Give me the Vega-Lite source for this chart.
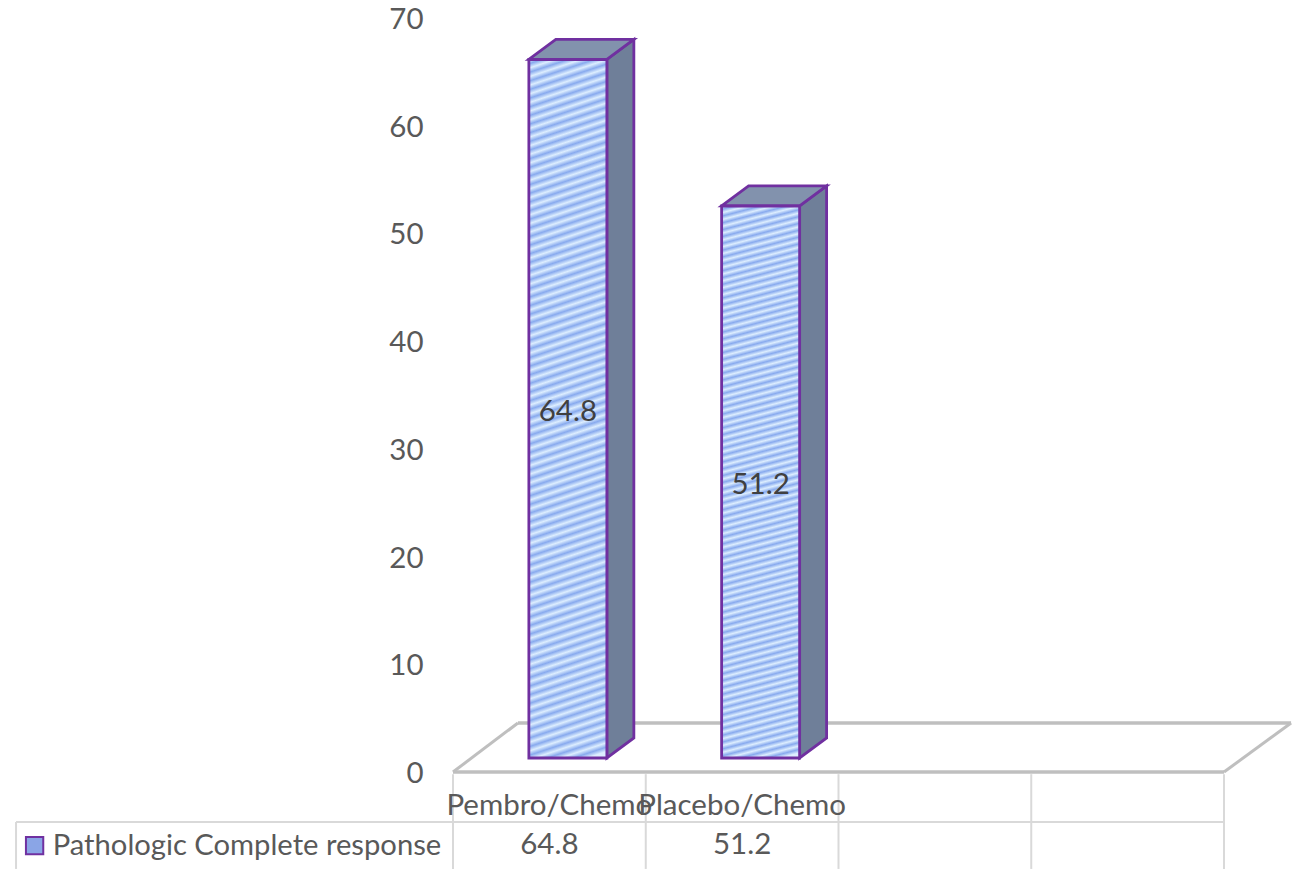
{
"$schema":"https://vega.github.io/schema/vega-lite/v6.json",
"width":1302,"height":869,"padding":0,"autosize":{"type":"none"},"background":"white",
"config":{"view":{"stroke":null},"font":"Lato"},
"layer":[
{"data":{"values":[{}]},"mark":{"type":"rule","stroke":"#bfbfbf","strokeWidth":3.5},"encoding":{
 "x":{"datum":0,"type":"quantitative","scale":{"domain":[0,4],"range":[453,1224],"nice":false,"zero":false,"padding":0},"axis":null},
 "x2":{"datum":4},
 "y":{"datum":0,"type":"quantitative","scale":{"domain":[0,70],"range":[772,18],"nice":false,"zero":false,"padding":0},"axis":{"values":[0,10,20,30,40,50,60,70],"title":null,"domain":false,"ticks":false,"grid":false,"offset":-425,"labelPadding":2,"labelOffset":1.5,"labelFont":"Lato","labelFontSize":29.5,"labelColor":"#595959"}},
 "y2":{"datum":0}}},
{"data":{"values":[{}]},"mark":{"type":"rule","stroke":"#bfbfbf","strokeWidth":3.5},"encoding":{"x":{"datum":0.337,"type":"quantitative"},"x2":{"datum":4.348},"y":{"datum":4.55,"type":"quantitative"},"y2":{"datum":4.55}}},
{"data":{"values":[{}]},"mark":{"type":"rule","stroke":"#bfbfbf","strokeWidth":3},"encoding":{"x":{"datum":0,"type":"quantitative"},"x2":{"datum":0.337},"y":{"datum":0,"type":"quantitative"},"y2":{"datum":4.55}}},
{"data":{"values":[{}]},"mark":{"type":"rule","stroke":"#bfbfbf","strokeWidth":3},"encoding":{"x":{"datum":4,"type":"quantitative"},"x2":{"datum":4.348},"y":{"datum":0,"type":"quantitative"},"y2":{"datum":4.55}}},
{"data":{"values":[{"column":0},{"column":1},{"column":2},{"column":3},{"column":4}]},"mark":{"type":"rule","stroke":"#d9d9d9","strokeWidth":2},"encoding":{"x":{"field":"column","type":"quantitative"},"y":{"datum":-0.2,"type":"quantitative"},"y2":{"datum":-9}}},
{"data":{"values":[{}]},"mark":{"type":"rule","stroke":"#d9d9d9","strokeWidth":2},"encoding":{"x":{"datum":-2.267,"type":"quantitative"},"x2":{"datum":4},"y":{"datum":-4.64,"type":"quantitative"},"y2":{"datum":-4.64}}},
{"data":{"values":[{}]},"mark":{"type":"rule","stroke":"#d9d9d9","strokeWidth":2},"encoding":{"x":{"datum":-2.267,"type":"quantitative"},"y":{"datum":-4.64,"type":"quantitative"},"y2":{"datum":-9}}},
{"data":{"name":"bars","values":[
 {"treatment":"Pembro/Chemo","value":64.8,"slot":0,"series":"Pathologic Complete response"},
 {"treatment":"Placebo/Chemo","value":51.2,"slot":1,"series":"Pathologic Complete response"}]},
 "transform":[{"calculate":"[0,1]","as":"d"},{"flatten":["d"]},
  {"calculate":"datum.slot+0.7983+datum.d*0.14","as":"sx"},
  {"calculate":"datum.value+1.35+datum.d*1.857","as":"sy"},
  {"calculate":"1.3+datum.d*1.857","as":"sy2"}],
 "mark":{"type":"area","fill":"#6f7f99","stroke":"#7030a0","strokeWidth":2.8,"orient":"vertical","interpolate":"linear"},
 "encoding":{"x":{"field":"sx","type":"quantitative"},"y":{"field":"sy","type":"quantitative"},"y2":{"field":"sy2"},"detail":{"field":"treatment"}}},
{"data":{"name":"bars"},
 "transform":[{"calculate":"[0,1]","as":"d"},{"flatten":["d"]},
  {"calculate":"datum.slot+0.3937+datum.d*0.14","as":"tx"},
  {"calculate":"datum.slot+0.7983+datum.d*0.14","as":"tx2"},
  {"calculate":"datum.value+1.35+datum.d*1.857","as":"ty"}],
 "mark":{"type":"area","fill":"#8292ad","stroke":"#7030a0","strokeWidth":2.8,"orient":"horizontal","interpolate":"linear"},
 "encoding":{"y":{"field":"ty","type":"quantitative"},"x":{"field":"tx","type":"quantitative"},"x2":{"field":"tx2"},"detail":{"field":"treatment"}}},
{"data":{"name":"bars"},
 "transform":[{"calculate":"datum.slot+0.5","as":"center"}],
 "mark":{"type":"bar","orient":"vertical","width":78,"xOffset":18.5,"yOffset":-14.5,"y2Offset":-14},
 "encoding":{"x":{"field":"center","type":"quantitative"},"y":{"field":"value","type":"quantitative"},"y2":{"datum":0},
 "color":{"field":"series","type":"nominal","scale":{"range":["#8aa5e6"]},
 "legend":{"orient":"none","legendX":20,"legendY":831,"title":null,"padding":0,"symbolType":"square","symbolSize":300,"symbolStrokeColor":"#7030a0","symbolStrokeWidth":2,"labelFont":"Lato","labelFontSize":29.2,"labelColor":"#595959","labelOffset":3.5,"labelLimit":500}}}},
{"data":{"name":"bars"},
 "transform":[{"calculate":"datum.slot+0.5","as":"center"}],
 "mark":{"type":"bar","orient":"vertical","width":78,"xOffset":18.5,"yOffset":-14.5,"y2Offset":-14,"stroke":"#7030a0","strokeWidth":2.8,
 "fill":{"gradient":"linear","x1":0,"y1":0,"x2":0.038,"y2":1.03,"stops":[
{"offset":0,"color":"#def"},{"offset":0.006,"color":"#8ae"},{"offset":0.012,"color":"#def"},{"offset":0.018,"color":"#8ae"},{"offset":0.024,"color":"#def"},{"offset":0.03,"color":"#8ae"},{"offset":0.036,"color":"#def"},{"offset":0.042,"color":"#8ae"},{"offset":0.048,"color":"#def"},{"offset":0.054,"color":"#8ae"},
{"offset":0.06,"color":"#def"},{"offset":0.066,"color":"#8ae"},{"offset":0.072,"color":"#def"},{"offset":0.078,"color":"#8ae"},{"offset":0.084,"color":"#def"},{"offset":0.09,"color":"#8ae"},{"offset":0.096,"color":"#def"},{"offset":0.102,"color":"#8ae"},{"offset":0.108,"color":"#def"},{"offset":0.114,"color":"#8ae"},
{"offset":0.12,"color":"#def"},{"offset":0.126,"color":"#8ae"},{"offset":0.132,"color":"#def"},{"offset":0.138,"color":"#8ae"},{"offset":0.144,"color":"#def"},{"offset":0.15,"color":"#8ae"},{"offset":0.156,"color":"#def"},{"offset":0.162,"color":"#8ae"},{"offset":0.168,"color":"#def"},{"offset":0.174,"color":"#8ae"},
{"offset":0.18,"color":"#def"},{"offset":0.186,"color":"#8ae"},{"offset":0.192,"color":"#def"},{"offset":0.198,"color":"#8ae"},{"offset":0.204,"color":"#def"},{"offset":0.21,"color":"#8ae"},{"offset":0.216,"color":"#def"},{"offset":0.222,"color":"#8ae"},{"offset":0.228,"color":"#def"},{"offset":0.234,"color":"#8ae"},
{"offset":0.24,"color":"#def"},{"offset":0.246,"color":"#8ae"},{"offset":0.252,"color":"#def"},{"offset":0.258,"color":"#8ae"},{"offset":0.264,"color":"#def"},{"offset":0.27,"color":"#8ae"},{"offset":0.276,"color":"#def"},{"offset":0.282,"color":"#8ae"},{"offset":0.288,"color":"#def"},{"offset":0.294,"color":"#8ae"},
{"offset":0.3,"color":"#def"},{"offset":0.306,"color":"#8ae"},{"offset":0.312,"color":"#def"},{"offset":0.318,"color":"#8ae"},{"offset":0.324,"color":"#def"},{"offset":0.33,"color":"#8ae"},{"offset":0.336,"color":"#def"},{"offset":0.342,"color":"#8ae"},{"offset":0.348,"color":"#def"},{"offset":0.354,"color":"#8ae"},
{"offset":0.36,"color":"#def"},{"offset":0.366,"color":"#8ae"},{"offset":0.372,"color":"#def"},{"offset":0.378,"color":"#8ae"},{"offset":0.384,"color":"#def"},{"offset":0.39,"color":"#8ae"},{"offset":0.396,"color":"#def"},{"offset":0.402,"color":"#8ae"},{"offset":0.408,"color":"#def"},{"offset":0.414,"color":"#8ae"},
{"offset":0.42,"color":"#def"},{"offset":0.426,"color":"#8ae"},{"offset":0.432,"color":"#def"},{"offset":0.438,"color":"#8ae"},{"offset":0.444,"color":"#def"},{"offset":0.45,"color":"#8ae"},{"offset":0.456,"color":"#def"},{"offset":0.462,"color":"#8ae"},{"offset":0.468,"color":"#def"},{"offset":0.474,"color":"#8ae"},
{"offset":0.48,"color":"#def"},{"offset":0.486,"color":"#8ae"},{"offset":0.492,"color":"#def"},{"offset":0.498,"color":"#8ae"},{"offset":0.504,"color":"#def"},{"offset":0.51,"color":"#8ae"},{"offset":0.516,"color":"#def"},{"offset":0.522,"color":"#8ae"},{"offset":0.528,"color":"#def"},{"offset":0.534,"color":"#8ae"},
{"offset":0.54,"color":"#def"},{"offset":0.546,"color":"#8ae"},{"offset":0.552,"color":"#def"},{"offset":0.558,"color":"#8ae"},{"offset":0.564,"color":"#def"},{"offset":0.57,"color":"#8ae"},{"offset":0.576,"color":"#def"},{"offset":0.582,"color":"#8ae"},{"offset":0.588,"color":"#def"},{"offset":0.594,"color":"#8ae"},
{"offset":0.6,"color":"#def"},{"offset":0.606,"color":"#8ae"},{"offset":0.612,"color":"#def"},{"offset":0.618,"color":"#8ae"},{"offset":0.624,"color":"#def"},{"offset":0.63,"color":"#8ae"},{"offset":0.636,"color":"#def"},{"offset":0.642,"color":"#8ae"},{"offset":0.648,"color":"#def"},{"offset":0.654,"color":"#8ae"},
{"offset":0.66,"color":"#def"},{"offset":0.666,"color":"#8ae"},{"offset":0.672,"color":"#def"},{"offset":0.678,"color":"#8ae"},{"offset":0.684,"color":"#def"},{"offset":0.69,"color":"#8ae"},{"offset":0.696,"color":"#def"},{"offset":0.702,"color":"#8ae"},{"offset":0.708,"color":"#def"},{"offset":0.714,"color":"#8ae"},
{"offset":0.72,"color":"#def"},{"offset":0.726,"color":"#8ae"},{"offset":0.732,"color":"#def"},{"offset":0.738,"color":"#8ae"},{"offset":0.744,"color":"#def"},{"offset":0.75,"color":"#8ae"},{"offset":0.756,"color":"#def"},{"offset":0.762,"color":"#8ae"},{"offset":0.768,"color":"#def"},{"offset":0.774,"color":"#8ae"},
{"offset":0.78,"color":"#def"},{"offset":0.786,"color":"#8ae"},{"offset":0.792,"color":"#def"},{"offset":0.798,"color":"#8ae"},{"offset":0.804,"color":"#def"},{"offset":0.81,"color":"#8ae"},{"offset":0.816,"color":"#def"},{"offset":0.822,"color":"#8ae"},{"offset":0.828,"color":"#def"},{"offset":0.834,"color":"#8ae"},
{"offset":0.84,"color":"#def"},{"offset":0.846,"color":"#8ae"},{"offset":0.852,"color":"#def"},{"offset":0.858,"color":"#8ae"},{"offset":0.864,"color":"#def"},{"offset":0.87,"color":"#8ae"},{"offset":0.876,"color":"#def"},{"offset":0.882,"color":"#8ae"},{"offset":0.888,"color":"#def"},{"offset":0.894,"color":"#8ae"},
{"offset":0.9,"color":"#def"},{"offset":0.906,"color":"#8ae"},{"offset":0.912,"color":"#def"},{"offset":0.918,"color":"#8ae"},{"offset":0.924,"color":"#def"},{"offset":0.93,"color":"#8ae"},{"offset":0.936,"color":"#def"},{"offset":0.942,"color":"#8ae"},{"offset":0.948,"color":"#def"},{"offset":0.954,"color":"#8ae"},
{"offset":0.96,"color":"#def"},{"offset":0.966,"color":"#8ae"},{"offset":0.972,"color":"#def"},{"offset":0.978,"color":"#8ae"},{"offset":0.984,"color":"#def"},{"offset":0.99,"color":"#8ae"},{"offset":0.996,"color":"#def"}
]}},
 "encoding":{"x":{"field":"center","type":"quantitative"},"y":{"field":"value","type":"quantitative"},"y2":{"datum":0}}},
{"data":{"name":"bars"},
 "transform":[{"calculate":"datum.slot+0.596","as":"mid"},{"calculate":"datum.value/2+1.0","as":"midY"}],
 "mark":{"type":"text","font":"Lato","fontSize":29.5,"fill":"#404040","align":"center","baseline":"middle"},
 "encoding":{"x":{"field":"mid","type":"quantitative"},"y":{"field":"midY","type":"quantitative"},"text":{"field":"value","type":"quantitative","format":".1f"}}},
{"data":{"name":"bars"},
 "transform":[{"calculate":"datum.slot+0.5","as":"center"}],
 "mark":{"type":"text","font":"Lato","fontSize":29.5,"fill":"#595959","align":"center","baseline":"middle"},
 "encoding":{"x":{"field":"center","type":"quantitative"},"y":{"datum":-3.15,"type":"quantitative"},"text":{"field":"treatment"}}},
{"data":{"name":"bars"},
 "transform":[{"calculate":"datum.slot+0.5","as":"center"}],
 "mark":{"type":"text","font":"Lato","fontSize":29.5,"fill":"#595959","align":"center","baseline":"middle"},
 "encoding":{"x":{"field":"center","type":"quantitative"},"y":{"datum":-6.8,"type":"quantitative"},"text":{"field":"value","type":"quantitative","format":".1f"}}}
]
}
